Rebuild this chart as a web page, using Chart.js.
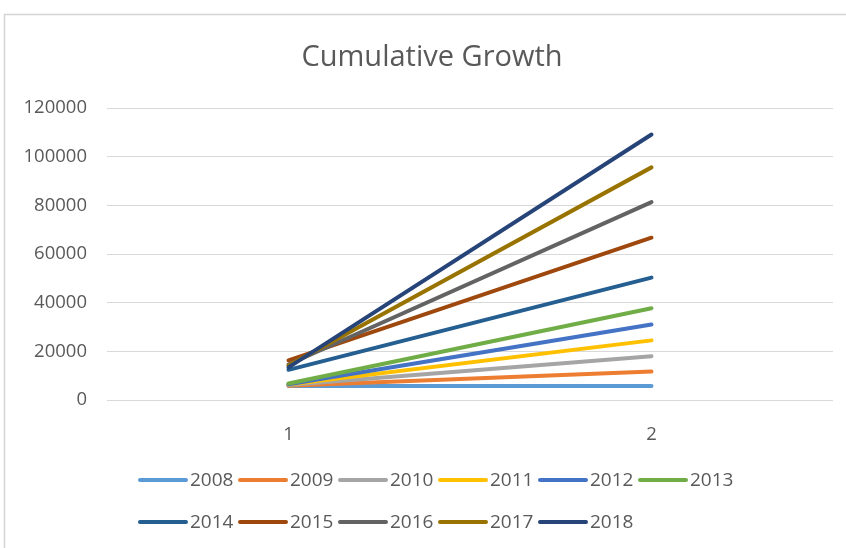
<!DOCTYPE html>
<html><head><meta charset="utf-8">
<script src="https://cdn.jsdelivr.net/npm/chart.js@4"></script>
<style>html,body{margin:0;padding:0;background:#fff}#wrap{width:846px;height:548px;position:relative}</style>
</head><body><div id="wrap"><canvas id="c" width="846" height="548"></canvas></div>
<script>
const titleText = 'Cumulative Growth';
const categories = ['1', '2'];
const seriesNames = ['2008','2009','2010','2011','2012','2013','2014','2015','2016','2017','2018'];
const startValues = [5800, 5900, 6200, 6400, 6500, 6800, 12400, 16300, 14600, 14200, 13400];
const endValues = [5800, 11700, 18000, 24500, 31000, 37700, 50300, 66700, 81300, 95600, 109100];
const seriesColors = ['#5B9BD5','#ED7D31','#A5A5A5','#FFC000','#4472C4','#70AD47','#255E91','#9E480E','#636363','#997300','#264478'];
const yTicks = [0, 20000, 40000, 60000, 80000, 100000, 120000];

const FONT = '"Open Sans", "Noto Sans", sans-serif';
const TEXT = '#595959';

const datasets = seriesNames.map((name, i) => ({
  label: name,
  data: [startValues[i], endValues[i]],
  borderColor: seriesColors[i],
  backgroundColor: seriesColors[i],
  order: seriesNames.length - i
}));

const framePlugin = {
  id: 'frame',
  beforeDraw(chart) {
    const c = chart.ctx;
    c.save();
    c.fillStyle = '#fff';
    c.fillRect(0, 0, chart.width, chart.height);
    c.strokeStyle = '#d4d4d4';
    c.lineWidth = 1.5;
    c.strokeRect(4.5, 14.5, 900, 600);
    c.restore();
  },
  afterDraw(chart) {
    const c = chart.ctx;
    c.save();
    c.font = '29px ' + FONT;
    c.fillStyle = TEXT;
    c.textAlign = 'center';
    c.textBaseline = 'middle';
    c.fillText(titleText, 432, 58);
    c.restore();
  }
};

const legendPlugin = {
  id: 'customLegend',
  afterDraw(chart) {
    const c = chart.ctx;
    const perRow = 6, x0 = 138, pitch = 100, rowY = [480, 522], lineW = 50;
    c.save();
    c.font = '19px ' + FONT;
    c.textBaseline = 'middle';
    c.textAlign = 'left';
    chart.data.datasets.forEach((ds, i) => {
      const r = Math.floor(i / perRow), k = i % perRow;
      const x = x0 + k * pitch, y = rowY[r];
      c.strokeStyle = ds.borderColor;
      c.lineWidth = 4;
      c.lineCap = 'round';
      c.beginPath();
      c.moveTo(x + 2, y);
      c.lineTo(x + lineW - 2, y);
      c.stroke();
      c.fillStyle = TEXT;
      c.fillText(ds.label, x + lineW + 2, y + 1);
    });
    c.restore();
  }
};

new Chart(document.getElementById('c'), {
  type: 'line',
  data: { labels: categories, datasets },
  options: {
    responsive: false,
    animation: false,
    layout: { padding: { left: 0, right: 13, top: 108, bottom: 87 } },
    plugins: {
      legend: { display: false },
      tooltip: { enabled: false },
      title: { display: false }
    },
    scales: {
      x: {
        offset: true,
        grid: { display: false },
        border: { display: false },
        ticks: { color: TEXT, font: { family: FONT, size: 18.5 }, padding: 16 },
        afterFit(s) { s.height = 61; }
      },
      y: {
        min: 0, max: 120000,
        afterBuildTicks(s) { s.ticks = yTicks.map(v => ({ value: v })); },
        ticks: { color: TEXT, font: { family: FONT, size: 18.5 }, padding: 20, callback: v => String(v) },
        grid: { color: '#d9d9d9', drawTicks: false, lineWidth: 1 },
        border: { display: false },
        afterFit(s) { s.width = 107; }
      }
    },
    elements: {
      point: { radius: 0 },
      line: { borderWidth: 4, borderCapStyle: 'round', tension: 0 }
    }
  },
  plugins: [framePlugin, legendPlugin]
});
</script>
</body></html>
